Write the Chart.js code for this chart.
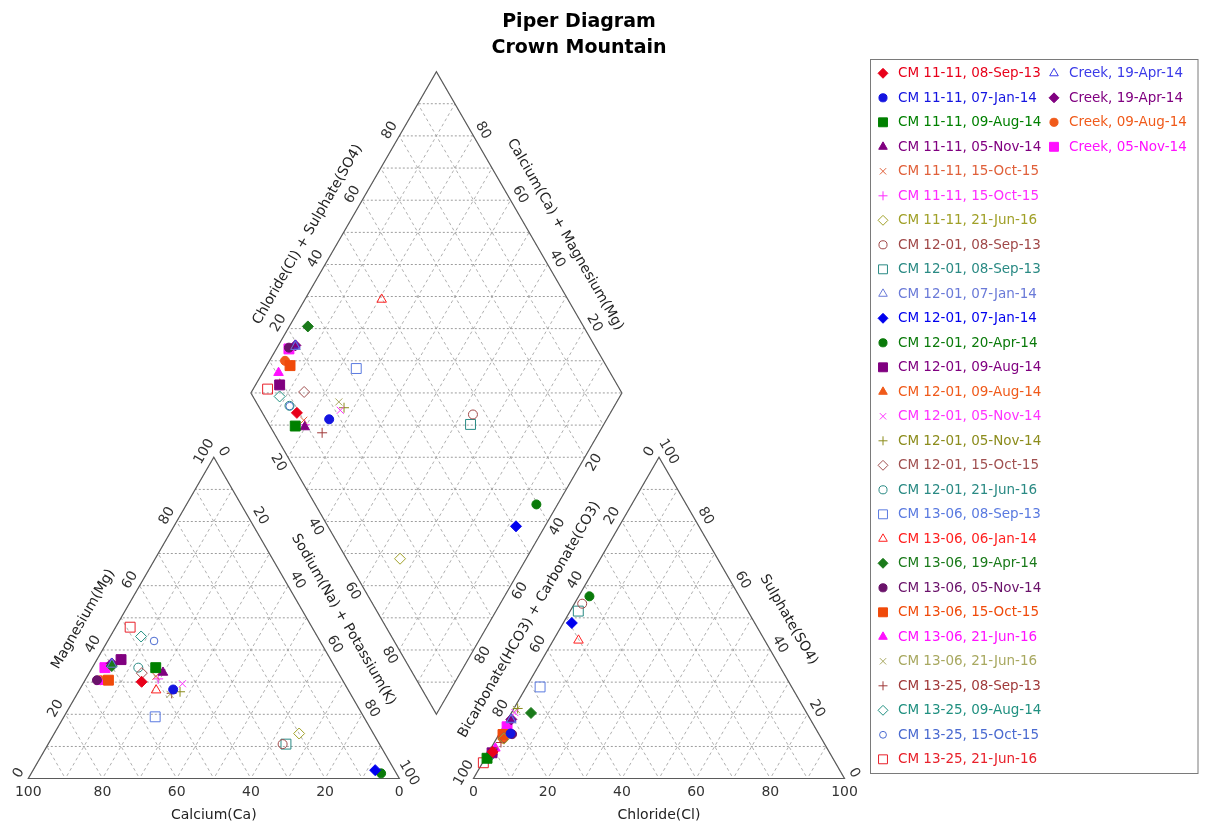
<!DOCTYPE html>
<html>
<head>
<meta charset="utf-8">
<title>Piper Diagram - Crown Mountain</title>
<script src="https://cdn.jsdelivr.net/npm/chart.js@4.4.1/dist/chart.umd.min.js"></script>
<style>
  html, body { margin: 0; padding: 0; background: #ffffff; }
  canvas { display: block; }
</style>
</head>
<body>
<canvas id="piper" width="1206" height="825"></canvas>
<script>
// ---- Sample names (legend order) ----
const sampleNames = [
  'CM 11-11, 08-Sep-13', 'CM 11-11, 07-Jan-14', 'CM 11-11, 09-Aug-14', 'CM 11-11, 05-Nov-14',
  'CM 11-11, 15-Oct-15', 'CM 11-11, 15-Oct-15', 'CM 11-11, 21-Jun-16', 'CM 12-01, 08-Sep-13',
  'CM 12-01, 08-Sep-13', 'CM 12-01, 07-Jan-14', 'CM 12-01, 07-Jan-14', 'CM 12-01, 20-Apr-14',
  'CM 12-01, 09-Aug-14', 'CM 12-01, 09-Aug-14', 'CM 12-01, 05-Nov-14', 'CM 12-01, 05-Nov-14',
  'CM 12-01, 15-Oct-15', 'CM 12-01, 21-Jun-16', 'CM 13-06, 08-Sep-13', 'CM 13-06, 06-Jan-14',
  'CM 13-06, 19-Apr-14', 'CM 13-06, 05-Nov-14', 'CM 13-06, 15-Oct-15', 'CM 13-06, 21-Jun-16',
  'CM 13-06, 21-Jun-16', 'CM 13-25, 08-Sep-13', 'CM 13-25, 09-Aug-14', 'CM 13-25, 15-Oct-15',
  'CM 13-25, 21-Jun-16', 'Creek, 19-Apr-14', 'Creek, 19-Apr-14', 'Creek, 09-Aug-14',
  'Creek, 05-Nov-14'
];

// ---- Cations, % meq/L (calcium is the remainder) ----
const magnesium = [
  30.1, 27.7, 34.5, 33.0, 31.8, 31.0, 14.0, 10.7, 10.7, 35.5, 2.6,
  1.6, 37.0, 37.0, 29.5, 27.0, 32.8, 34.5, 19.2, 27.5, 35.0, 30.6,
  30.6, 30.1, 26.2, 26.5, 44.2, 42.8, 47.1, 35.8, 35.8, 30.6, 34.5
];
const sodiumPotassium = [
  15.5, 25.2, 17.1, 19.8, 18.5, 19.5, 66.0, 63.2, 64.1, 4.8, 92.2,
  94.3, 6.5, 6.5, 26.8, 27.4, 14.2, 12.4, 24.6, 20.7, 5.0, 3.2,
  6.3, 4.3, 25.1, 25.4, 8.3, 12.5, 3.9, 4.6, 4.6, 4.2, 3.4
];
const calcium = magnesium.map((m, i) => 100 - m - sodiumPotassium[i]);

// ---- Anions, % meq/L (bicarbonate + carbonate is the remainder) ----
const sulphate = [
  8.3, 14.0, 6.3, 8.2, 8.8, 8.6, 12.4, 54.4, 52.1, 18.2, 48.4,
  56.7, 8.0, 8.0, 20.5, 21.8, 12.6, 7.5, 28.5, 43.0, 20.4, 13.8,
  13.7, 9.4, 21.5, 11.2, 6.4, 7.5, 4.9, 18.4, 18.4, 12.4, 16.1
];
const chloride = [
  1.0, 3.0, 0.5, 1.0, 1.2, 1.0, 2.0, 2.1, 2.2, 1.0, 2.3,
  2.9, 1.0, 1.0, 0.9, 1.0, 1.9, 0.9, 3.7, 6.8, 5.3, 3.5,
  1.1, 1.2, 0.8, 1.8, 0.8, 0.9, 0.2, 1.0, 1.0, 1.8, 1.0
];
const bicarbonate = sulphate.map((s, i) => 100 - s - chloride[i]);

// ---- Axis tick labels ----
const edgeTicks = [0, 20, 40, 60, 80, 100];
const innerTicks = [20, 40, 60, 80];

// ---- Marker styling ----
const markerColor = [
  '#e8001a', '#1414e0', '#008000', '#800080', '#e0603a', '#ff2cff', '#a0a028', '#a04848',
  '#2a8a84', '#6a7ad8', '#0000ee', '#0a7a0a', '#800080', '#f05a1a', '#ff33ff', '#8c8c1c',
  '#a05050', '#2a8a84', '#5a7ae0', '#ff2020', '#1a7a1a', '#6a126a', '#f04a0a', '#ff10ff',
  '#a8a860', '#a03a3a', '#209080', '#4a6ad0', '#e8202a', '#3a3ae8', '#800080', '#f05a1a',
  '#ff10ff'
];
const styleCycle = ['rectRot', 'circle', 'rect', 'triangle', 'crossRot', 'cross', 'rectRot', 'circle', 'rect', 'triangle'];
const filledCycle = [true, true, true, true, false, false, false, false, false, false];
const radiusFor = { rectRot: 5.5, circle: 4.5, rect: 7, triangle: 5.5, crossRot: 5, cross: 5 };

const markerStyle = sampleNames.map((_, i) => styleCycle[i % 10]);
const markerFilled = sampleNames.map((_, i) => filledCycle[i % 10]);
const markerRadius = sampleNames.map((_, i) => (i === 27 ? 3.8 : radiusFor[markerStyle[i]]));

// ---- Geometry: triangles of side 100, gap 20, diamond above ----
const H = Math.sqrt(3) / 2;
function cationPoint(i) {
  return { x: sodiumPotassium[i] + magnesium[i] / 2, y: magnesium[i] * H };
}
function anionPoint(i) {
  return { x: 120 + chloride[i] + sulphate[i] / 2, y: sulphate[i] * H };
}
function diamondPoint(i) {
  const p = calcium[i] + magnesium[i];
  const q = sulphate[i] + chloride[i];
  return { x: 110 + (q - p) / 2, y: H * (20 + p + q) };
}

const datasets = sampleNames.map((name, i) => ({
  label: name,
  data: [cationPoint(i), anionPoint(i), diamondPoint(i)],
  pointStyle: markerStyle[i],
  pointRadius: markerRadius[i],
  pointHoverRadius: markerRadius[i],
  backgroundColor: markerFilled[i] ? markerColor[i] : 'rgba(0,0,0,0)',
  borderColor: markerColor[i],
  borderWidth: 1,
  showLine: false,
  clip: false
}));

const LABEL_FONT = "14px 'DejaVu Sans', sans-serif";
const LEGEND_FONT = "13.5px 'DejaVu Sans', sans-serif";
const TITLE_FONT = "bold 19px 'DejaVu Sans', sans-serif";

const shapes = [
  [[0, 0], [100, 0], [50, 100 * H]],
  [[120, 0], [220, 0], [170, 100 * H]],
  [[110, 20 * H], [160, 120 * H], [110, 220 * H], [60, 120 * H]]
];

function drawRotated(ctx, text, x, y, angle) {
  ctx.save();
  ctx.translate(x, y);
  ctx.rotate(angle);
  ctx.textAlign = 'center';
  ctx.textBaseline = 'middle';
  ctx.fillText(text, 0, 0);
  ctx.restore();
}

const piperFrame = {
  id: 'piperFrame',
  beforeDatasetsDraw(chart) {
    const ctx = chart.ctx;
    const xs = chart.scales.x, ys = chart.scales.y;
    const P = (u, v) => [xs.getPixelForValue(u), ys.getPixelForValue(v)];
    const path = (pts) => {
      ctx.beginPath();
      pts.forEach((p, j) => {
        const [x, y] = P(p[0], p[1]);
        if (j) ctx.lineTo(x, y); else ctx.moveTo(x, y);
      });
      ctx.closePath();
    };
    const seg = (u1, v1, u2, v2) => {
      const [x1, y1] = P(u1, v1), [x2, y2] = P(u2, v2);
      ctx.beginPath(); ctx.moveTo(x1, y1); ctx.lineTo(x2, y2); ctx.stroke();
    };

    // 10 % lattice inside every field
    shapes.forEach(pts => {
      ctx.save();
      path(pts);
      ctx.clip();
      ctx.lineWidth = 0.8;
      ctx.strokeStyle = '#858585';
      ctx.setLineDash([2, 2]);
      for (let k = 1; k <= 21; k++) seg(-50, 10 * k * H, 270, 10 * k * H);
      ctx.strokeStyle = '#9a9a9a';
      ctx.setLineDash([3, 3]);
      for (let k = -30; k <= 30; k++) {
        seg(10 * k - 150, -300 * H, 10 * k + 150, 300 * H);
        seg(10 * k + 150, -300 * H, 10 * k - 150, 300 * H);
      }
      ctx.restore();
    });

    // field outlines
    ctx.save();
    ctx.setLineDash([]);
    ctx.strokeStyle = '#5a5a5a';
    ctx.lineWidth = 1.2;
    shapes.forEach(pts => { path(pts); ctx.stroke(); });
    ctx.restore();
  },

  afterDraw(chart) {
    const ctx = chart.ctx;
    const xs = chart.scales.x, ys = chart.scales.y;
    const P = (u, v) => [xs.getPixelForValue(u), ys.getPixelForValue(v)];
    const A60 = Math.PI / 3;
    const upLeft = [-H, -0.5], upRight = [H, -0.5], downLeft = [-H, 0.5], downRight = [H, 0.5];

    ctx.save();
    ctx.font = LABEL_FONT;
    ctx.fillStyle = '#333333';

    // tick labels along one edge: value vA at point a, vB at point b
    const edge = (a, b, vA, vB, values, normal, angle, off) => {
      const [ax, ay] = P(a[0], a[1]), [bx, by] = P(b[0], b[1]);
      values.forEach(v => {
        const t = (v - vA) / (vB - vA);
        drawRotated(ctx, String(v), ax + (bx - ax) * t + normal[0] * off,
          ay + (by - ay) * t + normal[1] * off, angle);
      });
    };
    // axis title beside an edge
    const edgeTitle = (a, b, text, normal, angle, off, slide) => {
      const [ax, ay] = P(a[0], a[1]), [bx, by] = P(b[0], b[1]);
      let dx = bx - ax, dy = by - ay;
      const len = Math.hypot(dx, dy);
      dx /= len; dy /= len;
      if (dy < 0) { dx = -dx; dy = -dy; }
      drawRotated(ctx, text, (ax + bx) / 2 + normal[0] * off + dx * slide,
        (ay + by) / 2 + normal[1] * off + dy * slide, angle);
    };
    const bottom = (u0, u1, vA, vB, values) => {
      const [x0, y0] = P(u0, 0), [x1] = P(u1, 0);
      values.forEach(v => {
        const t = (v - vA) / (vB - vA);
        drawRotated(ctx, String(v), x0 + (x1 - x0) * t, y0 + 14, 0);
      });
    };

    // cation triangle
    bottom(0, 100, 100, 0, edgeTicks.slice().reverse());
    edge([0, 0], [50, 100 * H], 0, 100, edgeTicks, upLeft, -A60, 11);
    edge([50, 100 * H], [100, 0], 0, 100, edgeTicks, upRight, A60, 11);
    // anion triangle
    bottom(120, 220, 0, 100, edgeTicks);
    edge([120, 0], [170, 100 * H], 100, 0, edgeTicks, upLeft, -A60, 11);
    edge([170, 100 * H], [220, 0], 100, 0, edgeTicks, upRight, A60, 11);
    // diamond
    const L = [60, 120 * H], T = [110, 220 * H], R = [160, 120 * H], B = [110, 20 * H];
    edge(L, T, 0, 100, innerTicks, upLeft, -A60, 11);
    edge(R, T, 0, 100, innerTicks, upRight, A60, 11);
    edge(L, B, 0, 100, innerTicks, downLeft, A60, 11);
    edge(R, B, 0, 100, innerTicks, downRight, -A60, 11);

    // axis titles
    ctx.fillStyle = '#222222';
    const [cx] = P(50, 0), [ax2, by0] = P(170, 0);
    drawRotated(ctx, 'Calcium(Ca)', cx, by0 + 37, 0);
    drawRotated(ctx, 'Chloride(Cl)', ax2, by0 + 37, 0);
    edgeTitle([0, 0], [50, 100 * H], 'Magnesium(Mg)', upLeft, -A60, 32, 20);
    edgeTitle([50, 100 * H], [100, 0], 'Sodium(Na) + Potassium(K)', upRight, A60, 31, 20);
    edgeTitle([120, 0], [170, 100 * H], 'Bicarbonate(HCO3) + Carbonate(CO3)', upLeft, -A60, 31, 20);
    edgeTitle([170, 100 * H], [220, 0], 'Sulphate(SO4)', upRight, A60, 31, 20);
    edgeTitle(L, T, 'Chloride(Cl) + Sulphate(SO4)', upLeft, -A60, 30, 20);
    edgeTitle(R, T, 'Calcium(Ca) + Magnesium(Mg)', upRight, A60, 30, 20);

    // chart title
    ctx.font = TITLE_FONT;
    ctx.fillStyle = '#000000';
    ctx.textAlign = 'center';
    ctx.textBaseline = 'alphabetic';
    ctx.fillText('Piper Diagram', 579, 27);
    ctx.fillText('Crown Mountain', 579, 53);

    // legend
    ctx.strokeStyle = '#7a7a7a';
    ctx.lineWidth = 1;
    ctx.setLineDash([]);
    ctx.strokeRect(870.5, 59.5, 327.5, 714);
    ctx.font = LEGEND_FONT;
    ctx.textAlign = 'left';
    ctx.textBaseline = 'middle';
    const perColumn = 29;
    sampleNames.forEach((name, i) => {
      const col = i < perColumn ? 0 : 1;
      const row = col ? i - perColumn : i;
      const y = 73.3 + row * 24.5;
      const mx = col ? 1054 : 883;
      ctx.save();
      ctx.fillStyle = markerFilled[i] ? markerColor[i] : 'rgba(0,0,0,0)';
      ctx.strokeStyle = markerColor[i];
      ctx.lineWidth = 1;
      Chart.helpers.drawPoint(ctx, {
        pointStyle: markerStyle[i], radius: markerRadius[i] * 0.9, rotation: 0, borderWidth: 1
      }, mx, y);
      ctx.restore();
      ctx.fillStyle = markerColor[i];
      ctx.fillText(name, mx + 15, y + 0.5);
    });
    ctx.restore();
  }
};

new Chart(document.getElementById('piper'), {
  type: 'scatter',
  data: { datasets },
  options: {
    responsive: false,
    animation: false,
    devicePixelRatio: 1,
    events: [],
    layout: { padding: { left: 28.3, right: 361.5, top: 60, bottom: 46.5 } },
    scales: {
      x: { type: 'linear', min: 0, max: 220, display: false },
      y: { type: 'linear', min: 0, max: (778.5 - 60) / 3.71, display: false }
    },
    plugins: {
      legend: { display: false },
      title: { display: false },
      tooltip: { enabled: false }
    }
  },
  plugins: [piperFrame]
});
</script>
</body>
</html>
